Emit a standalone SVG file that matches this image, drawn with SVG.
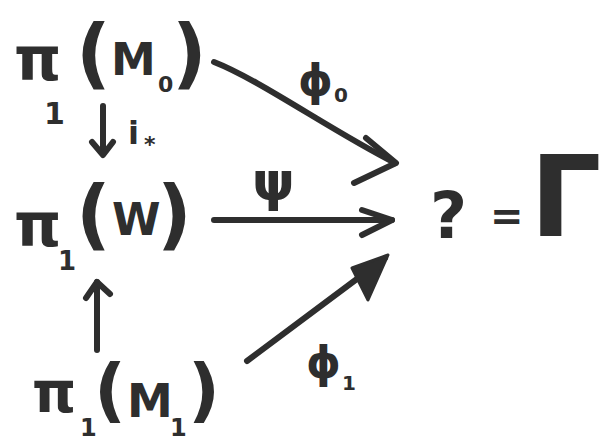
<svg xmlns="http://www.w3.org/2000/svg" width="604" height="441" viewBox="0 0 604 441">
<style>
.t{font-family:"DejaVu Sans",sans-serif;font-weight:bold;fill:#2e2e2e}
.ln{stroke:#2e2e2e;stroke-width:6;stroke-linecap:round;stroke-linejoin:round;fill:none}
</style>
<rect width="604" height="441" fill="#ffffff"/>
<g id="node-M0">
<text class="t"><tspan x="14" y="80" font-size="60">π</tspan><tspan x="44" y="124" font-size="30">1</tspan><tspan x="76" y="79" font-size="76">(</tspan><tspan x="111" y="75" font-size="45">M</tspan><tspan x="158" y="92" font-size="22">0</tspan><tspan x="172" y="79" font-size="76">)</tspan></text>
</g>
<g id="node-W">
<text class="t"><tspan x="14" y="246" font-size="60">π</tspan><tspan x="58" y="270" font-size="26">1</tspan><tspan x="76" y="240" font-size="76">(</tspan><tspan x="112" y="235" font-size="44">W</tspan><tspan x="157" y="240" font-size="76">)</tspan></text>
</g>
<g id="node-M1">
<text class="t"><tspan x="32" y="412" font-size="56">π</tspan><tspan x="80" y="436" font-size="24">1</tspan><tspan x="94" y="414" font-size="70">(</tspan><tspan x="127" y="417" font-size="46">M</tspan><tspan x="170" y="436" font-size="24">1</tspan><tspan x="188" y="414" font-size="70">)</tspan></text>
</g>
<g id="node-target">
<text class="t"><tspan x="430" y="238" font-size="64">?</tspan><tspan x="490" y="230" font-size="40">=</tspan><tspan x="530" y="236" font-size="112">Γ</tspan></text>
</g>
<g id="connectors">
<path class="ln" d="M214 62 C260 80 330 130 395 163"/>
<path class="ln" d="M366 138 L396 163 L354 183"/>
<path class="ln" d="M214 220 L392 220"/>
<path class="ln" d="M362 210 L392 220 L362 235"/>
<path class="ln" d="M247 361 L385 258"/>
<path d="M352 268 L388 255 L368 300 Z" fill="#2e2e2e" stroke="#2e2e2e" stroke-width="3" stroke-linejoin="round"/>
<path class="ln" d="M103 106 L103 152"/>
<path class="ln" d="M92 142 L103 155 L113 142"/>
<path class="ln" d="M97 350 L97 282"/>
<path class="ln" d="M86 298 L97 282 L110 294"/>
</g>
<g id="labels">
<text class="t"><tspan x="298" y="96" font-size="44">ϕ</tspan><tspan x="334" y="102" font-size="20">0</tspan></text>
<text class="t" x="252" y="200" font-size="54">ψ</text>
<text class="t"><tspan x="306" y="378" font-size="44">ϕ</tspan><tspan x="342" y="390" font-size="20">1</tspan></text>
<text class="t"><tspan x="128" y="144" font-size="32">i</tspan><tspan x="144" y="152" font-size="22">*</tspan></text>
</g>
</svg>
